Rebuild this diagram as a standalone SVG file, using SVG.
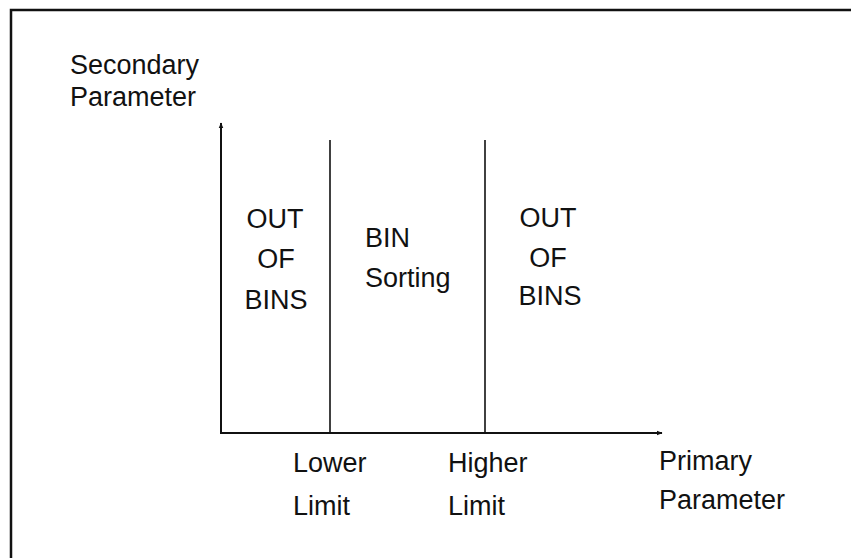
<svg xmlns="http://www.w3.org/2000/svg" width="851" height="558" viewBox="0 0 851 558">
<style>
text{font-family:"Liberation Sans",Arial,sans-serif;font-size:27px;fill:#111;}
.c{text-anchor:middle;}
.ax{stroke:#111;stroke-width:2;fill:none;}
.lim{stroke:#111;stroke-width:1.6;fill:none;}
</style>
<defs>
<marker id="arr" viewBox="0 0 10 10" refX="9" refY="5" markerWidth="6" markerHeight="6" markerUnits="userSpaceOnUse" orient="auto">
<path d="M0,1 L10,5 L0,9 Z" fill="#111"/>
</marker>
</defs>
<rect width="851" height="558" fill="#fff"/>
<path d="M11,558 V10 H851" fill="none" stroke="#111" stroke-width="2.5"/>
<g id="axes">
<line class="ax" x1="221" y1="434" x2="221" y2="123" marker-end="url(#arr)"/>
<line class="ax" x1="220" y1="433" x2="662" y2="433" marker-end="url(#arr)"/>
<line class="lim" x1="330" y1="140" x2="330" y2="433"/>
<line class="lim" x1="485" y1="140" x2="485" y2="433"/>
</g>
<g id="y-label">
<text x="70" y="74">Secondary</text>
<text x="70" y="106">Parameter</text>
</g>
<g id="left-out">
<text class="c" x="275" y="228">OUT</text>
<text class="c" x="276" y="268">OF</text>
<text class="c" x="276" y="309">BINS</text>
</g>
<g id="bin-sorting">
<text x="365" y="247">BIN</text>
<text x="365" y="287">Sorting</text>
</g>
<g id="right-out">
<text class="c" x="548" y="227">OUT</text>
<text class="c" x="548" y="267">OF</text>
<text class="c" x="550" y="305">BINS</text>
</g>
<g id="lower-limit">
<text x="293" y="472">Lower</text>
<text x="293" y="515">Limit</text>
</g>
<g id="higher-limit">
<text x="448" y="472">Higher</text>
<text x="448" y="515">Limit</text>
</g>
<g id="x-label">
<text x="659" y="470">Primary</text>
<text x="659" y="509">Parameter</text>
</g>
</svg>
